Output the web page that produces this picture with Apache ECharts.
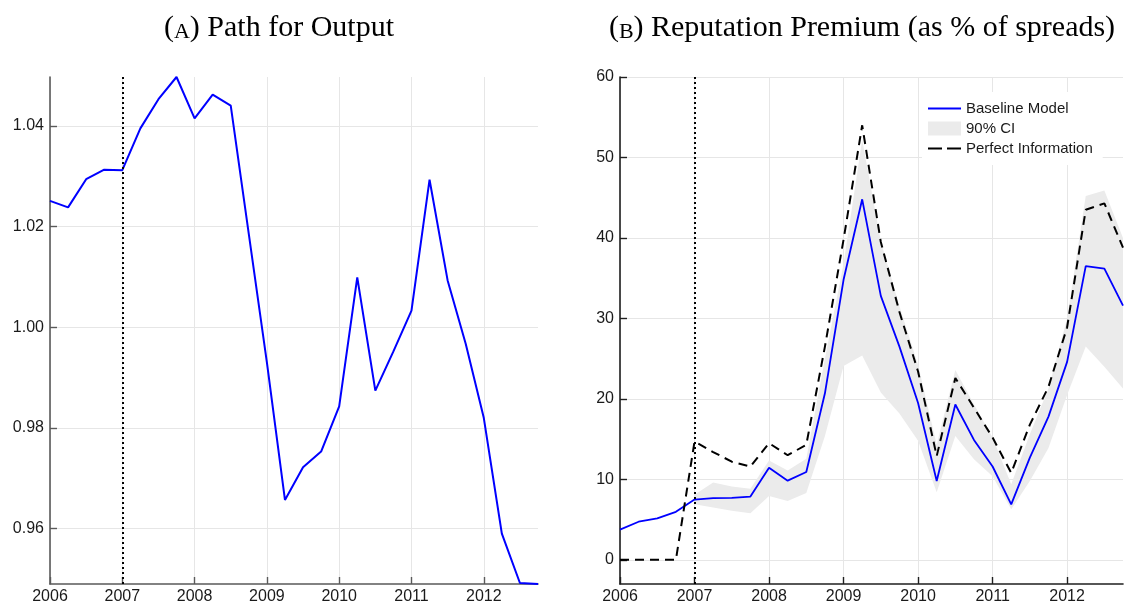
<!DOCTYPE html>
<html>
<head>
<meta charset="utf-8">
<script src="https://cdn.jsdelivr.net/npm/echarts@6/dist/echarts.min.js"></script>
<style>
  html, body { margin: 0; padding: 0; background: #ffffff; }
  #chart { width: 1138px; height: 605px; }
</style>
</head>
<body>
<div id="chart"></div>
<script>
// Quarterly dates, 2006Q1 .. 2012Q4
const quarters = [
  2006.00, 2006.25, 2006.50, 2006.75,
  2007.00, 2007.25, 2007.50, 2007.75,
  2008.00, 2008.25, 2008.50, 2008.75,
  2009.00, 2009.25, 2009.50, 2009.75,
  2010.00, 2010.25, 2010.50, 2010.75,
  2011.00, 2011.25, 2011.50, 2011.75,
  2012.00, 2012.25, 2012.50, 2012.75
];
const shockYear = 2007;
const yearTicks = [2006, 2007, 2008, 2009, 2010, 2011, 2012];
const outputTicks = [0.96, 0.98, 1.00, 1.02, 1.04];
const premiumTicks = [0, 10, 20, 30, 40, 50, 60];

// Panel A: output path
const outputPath = [
  1.0251, 1.0238, 1.0294, 1.0313,
  1.0312, 1.0395, 1.0453, 1.0497,
  1.0415, 1.0462, 1.0440, 1.0185,
  0.9930, 0.9657, 0.9722, 0.9753,
  0.9843, 1.0099, 0.9874, 0.9952,
  1.0033, 1.0293, 1.0093, 0.9967,
  0.9820, 0.9590, 0.9492, 0.9490
];

// Panel B: reputation premium (% of spreads)
const baselineModel = [
  3.75, 4.74, 5.15, 5.97,
  7.49, 7.66, 7.70, 7.86,
  11.44, 9.84, 10.91, 20.7,
  34.8, 44.8, 32.8, 26.5,
  19.5, 9.8, 19.3, 14.9,
  11.6, 6.9, 12.7, 17.8,
  24.6, 36.5, 36.2, 31.6
];
const perfectInformation = [
  0, 0, 0, 0,
  14.7, 13.4, 12.2, 11.6,
  14.5, 13.0, 14.3, 26.5,
  39.8, 54.0, 39.5, 30.8,
  23.4, 12.9, 22.6, 18.9,
  15.2, 10.8, 16.8, 21.5,
  28.9, 43.5, 44.3, 38.8
];
// 90% confidence band, from 2007Q1 onward
const ciQuarters = quarters.slice(4);
const ciLower = [
  6.9, 6.5, 6.1, 5.8,
  7.95, 7.3, 8.3, 15.4,
  24.1, 25.4, 20.8, 18.2,
  14.8, 8.4, 15.4, 12.5,
  10.4, 6.3, 9.8, 13.9,
  20.5, 26.5, 24.0, 21.3
];
const ciUpper = [
  8.1, 9.6, 9.1, 8.85,
  12.35, 11.1, 12.55, 25.0,
  36.8, 52.2, 39.6, 31.5,
  24.2, 14.3, 23.6, 19.3,
  15.2, 9.4, 15.6, 21.3,
  30.0, 45.2, 45.9, 40.0
];

const pairs = (xs, ys) => xs.map((x, i) => [x, ys[i]]);

const labelFont = 'Liberation Sans';
const gridColor = '#e6e6e6';
const bandColor = '#ebebeb';

function xAxisFor(gridIndex, lineColor) {
  return {
    gridIndex: gridIndex,
    type: 'value',
    min: 2006,
    max: 2012.75,
    axisLine: { show: true, onZero: false, lineStyle: { color: lineColor, width: 1.6 } },
    axisTick: { show: true, inside: true, length: 7, customValues: yearTicks, lineStyle: { color: lineColor, width: 1.4 } },
    axisLabel: {
      customValues: yearTicks,
      color: '#1a1a1a', fontSize: 16, fontFamily: labelFont, margin: 5,
      formatter: v => String(Math.round(v))
    },
    splitLine: { show: true, lineStyle: { color: gridColor, width: 1 } }
  };
}

function yAxisFor(gridIndex, lineColor, lo, hi, ticks, fmt) {
  return {
    gridIndex: gridIndex,
    type: 'value',
    min: lo,
    max: hi,
    axisLine: { show: true, onZero: false, lineStyle: { color: lineColor, width: 1.6 } },
    axisTick: { show: true, inside: true, length: 7, customValues: ticks, lineStyle: { color: lineColor, width: 1.4 } },
    axisLabel: {
      customValues: ticks,
      color: '#1a1a1a', fontSize: 16, fontFamily: labelFont, margin: 6,
      formatter: fmt
    },
    splitLine: { show: true, lineStyle: { color: gridColor, width: 1 } }
  };
}

const shockLine = {
  silent: true,
  symbol: ['none', 'none'],
  label: { show: false },
  lineStyle: { color: '#000000', width: 2, type: [2, 3], cap: 'butt' },
  data: [{ xAxis: shockYear }]
};

const option = {
  animation: false,
  backgroundColor: '#ffffff',
  graphic: [
    {
      type: 'text', x: 279, y: 28,
      style: {
        text: '({sc|A}) Path for Output',
        font: '30px "Liberation Serif"',
        fill: '#000000',
        align: 'center', verticalAlign: 'middle',
        rich: { sc: { font: '22px "Liberation Serif"', verticalAlign: 'bottom' } }
      }
    },
    {
      type: 'text', x: 862, y: 28,
      style: {
        text: '({sc|B}) Reputation Premium (as % of spreads)',
        font: '30px "Liberation Serif"',
        fill: '#000000',
        align: 'center', verticalAlign: 'middle',
        rich: { sc: { font: '22px "Liberation Serif"', verticalAlign: 'bottom' } }
      }
    }
  ],
  grid: [
    { left: 50, right: 600, top: 77, bottom: 18, containLabel: false },
    { left: 620, right: 15, top: 77, bottom: 18, containLabel: false }
  ],
  xAxis: [xAxisFor(0, '#5a5a5a'), xAxisFor(1, '#1f1f1f')],
  yAxis: [
    yAxisFor(0, '#5a5a5a', 0.949, 1.0497, outputTicks, v => v.toFixed(2)),
    yAxisFor(1, '#1f1f1f', -3, 60, premiumTicks, v => String(Math.round(v)))
  ],
  legend: {
    orient: 'vertical',
    left: 922,
    top: 92,
    backgroundColor: '#ffffff',
    padding: [9, 10, 9, 5],
    itemWidth: 33,
    itemHeight: 14,
    itemGap: 5,
    textStyle: { fontSize: 15, fontFamily: labelFont, color: '#1a1a1a' },
    data: [
      { name: 'Baseline Model', itemStyle: { opacity: 0 } },
      { name: '90% CI', icon: 'rect', itemStyle: { color: bandColor, borderWidth: 0 } },
      { name: 'Perfect Information', itemStyle: { opacity: 0 }, lineStyle: { type: [14, 5] } }
    ]
  },
  series: [
    {
      name: 'Output',
      type: 'line',
      xAxisIndex: 0, yAxisIndex: 0,
      data: pairs(quarters, outputPath),
      symbol: 'none',
      color: '#0000ff',
      lineStyle: { color: '#0000ff', width: 2 },
      markLine: shockLine,
      z: 3
    },
    {
      // confidence band drawn as one polygon: upper edge forward, lower edge back
      name: '90% CI',
      type: 'custom',
      xAxisIndex: 1, yAxisIndex: 1,
      data: ciQuarters.map((q, i) => [q, ciLower[i], ciUpper[i]]),
      encode: { x: 0, y: [1, 2] },
      itemStyle: { color: bandColor },
      silent: true,
      z: 1,
      renderItem: function (params, api) {
        if (params.dataIndex !== 0) return;
        const upperPts = ciQuarters.map((q, i) => api.coord([q, ciUpper[i]]));
        const lowerPts = ciQuarters.map((q, i) => api.coord([q, ciLower[i]])).reverse();
        return {
          type: 'polygon',
          shape: { points: upperPts.concat(lowerPts) },
          style: { fill: bandColor, stroke: null }
        };
      }
    },
    {
      name: 'Baseline Model',
      type: 'line',
      xAxisIndex: 1, yAxisIndex: 1,
      data: pairs(quarters, baselineModel),
      symbol: 'none',
      color: '#0000ff',
      lineStyle: { color: '#0000ff', width: 1.8 },
      markLine: shockLine,
      z: 3
    },
    {
      name: 'Perfect Information',
      type: 'line',
      xAxisIndex: 1, yAxisIndex: 1,
      data: pairs(quarters, perfectInformation),
      symbol: 'none',
      color: '#000000',
      lineStyle: { color: '#000000', width: 2, type: [9, 6] },
      z: 4
    }
  ]
};

const chart = echarts.init(document.getElementById('chart'), null, { renderer: 'canvas' });
chart.setOption(option);
</script>
</body>
</html>
